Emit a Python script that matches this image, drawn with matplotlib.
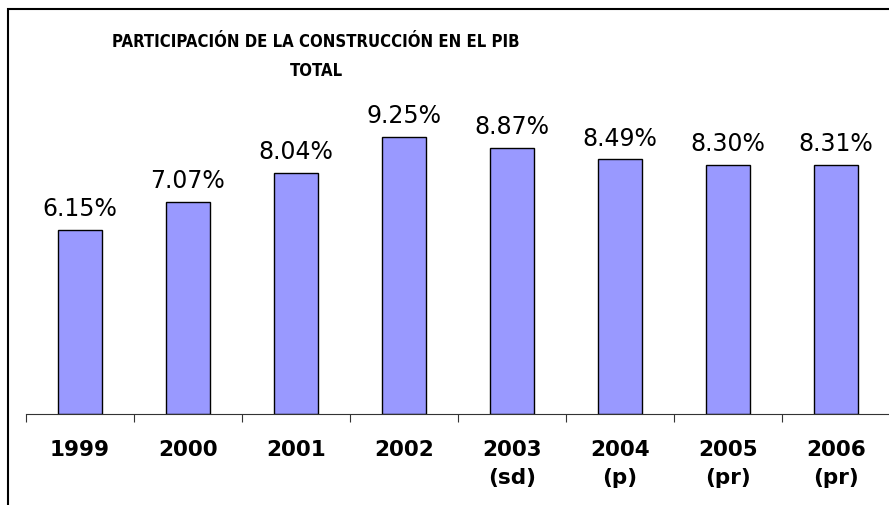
import matplotlib.pyplot as plt
from matplotlib.patches import Rectangle

years = ["1999", "2000", "2001", "2002", "2003\n(sd)", "2004\n(p)", "2005\n(pr)", "2006\n(pr)"]
shares = [6.15, 7.07, 8.04, 9.25, 8.87, 8.49, 8.30, 8.31]

W, H = 889, 506
fig = plt.figure(figsize=(W / 100, H / 100), dpi=100)

# outer frame of the chart (only top and left edges show in the crop)
fig.patches.append(Rectangle((8 / W, -0.1), 1.2, (H - 10) / H + 0.1, transform=fig.transFigure,
                             fill=False, edgecolor="black", linewidth=1.5))

# axes: x from 26px to 890px, baseline at 415px, 30px per percent
ax = fig.add_axes([26 / W, (H - 415) / H, 864 / W, 300 / H])
x = range(len(years))
ax.bar(x, shares, width=0.41, color="#9999FF", edgecolor="black", linewidth=1)
ax.set_xlim(-0.5, len(years) - 0.5)
ax.set_ylim(0, 10)

for i, v in enumerate(shares):
    ax.annotate(f"{v:.2f}%", (i, v), xytext=(0, 7), textcoords="offset points",
                ha="center", va="bottom", fontsize=17)

for s in ["top", "right", "left"]:
    ax.spines[s].set_visible(False)
ax.spines["bottom"].set_color("#333333")
ax.set_yticks([])
ax.set_xticks([i - 0.5 for i in range(len(years) + 1)])
ax.set_xticklabels([])
ax.tick_params(axis="x", length=6, color="#333333")
ax.set_xticks(list(x), minor=True)
ax.set_xticklabels(years, minor=True, fontsize=15.5, fontweight="bold", va="top", linespacing=1.5)
ax.tick_params(axis="x", which="minor", length=0, pad=18)

title_font = dict(family="DejaVu Sans", fontstretch="condensed", fontsize=12, fontweight="bold",
                  ha="center", va="center")
fig.text(316 / W, 1 - 42 / H, "PARTICIPACIÓN DE LA CONSTRUCCIÓN EN EL PIB", **title_font)
fig.text(316 / W, 1 - 71 / H, "TOTAL", **title_font)

fig.savefig("out.png", dpi=100)
